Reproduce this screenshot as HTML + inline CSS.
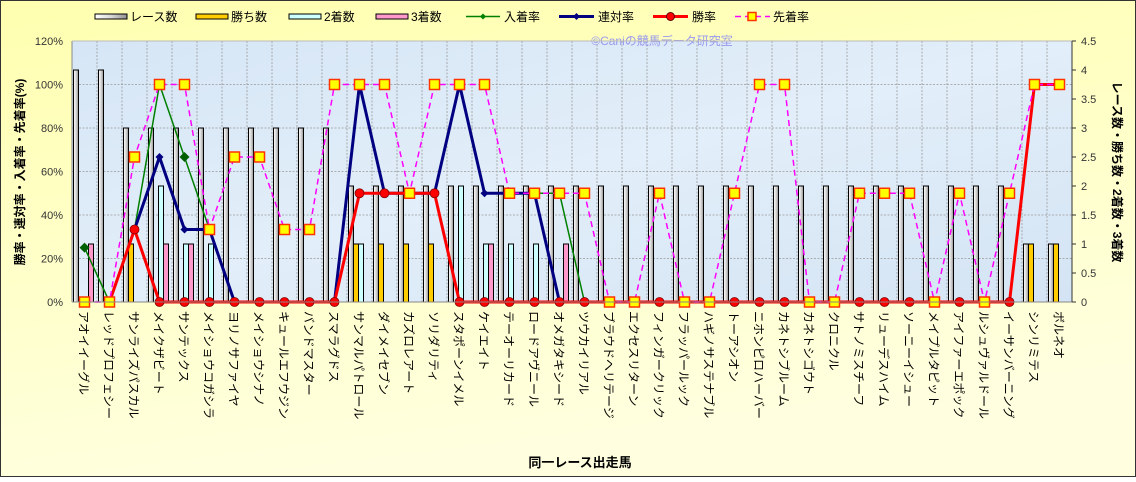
<!DOCTYPE html>
<html><head><meta charset="utf-8">
<style>
html,body{margin:0;padding:0;}
body{width:1136px;height:477px;overflow:hidden;font-family:"Liberation Sans","Noto Sans CJK JP",sans-serif;}
svg text{font-family:"Liberation Sans","Noto Sans CJK JP",sans-serif;}
</style></head>
<body>
<svg id="c" width="1136" height="477" xmlns="http://www.w3.org/2000/svg">
<defs>
<linearGradient id="bg" x1="0" y1="0" x2="0.3" y2="1">
<stop offset="0" stop-color="#FFFFB0"/><stop offset="1" stop-color="#FFFFE0"/></linearGradient>
<linearGradient id="pl" x1="0" y1="0" x2="1" y2="1">
<stop offset="0" stop-color="#D6E6F6"/><stop offset="0.5" stop-color="#E2EEF9"/><stop offset="1" stop-color="#D4E4F4"/></linearGradient>
<linearGradient id="rb" x1="0" y1="0" x2="1" y2="0">
<stop offset="0" stop-color="#FFFFFF"/><stop offset="0.5" stop-color="#D8D8D8"/><stop offset="1" stop-color="#909090"/></linearGradient>
</defs>
<rect x="0.5" y="0.5" width="1135" height="476" fill="url(#bg)" stroke="#333"/>
<rect x="72" y="41" width="1000" height="261" fill="url(#pl)"/>
<g id="g"></g>
</svg>
<script>
var g=document.getElementById('g'),h='';
var L=72,T=41,B=302,W=25;
function cx(i){return L+W*i+12.5;}
function yp(p){return B-p*261/120;}
function yc(v){return B-v*58;}
for(var k=1;k<6;k++){var y=yp(k*20);h+='<line x1="72" x2="1072" y1="'+y+'" y2="'+y+'" stroke="#999" stroke-dasharray="2,1.5" stroke-width="0.8"/>';}
for(var i=1;i<40;i++){var x=L+W*i;h+='<line x1="'+x+'" x2="'+x+'" y1="41" y2="302" stroke="#999" stroke-dasharray="2,1.5" stroke-width="0.8"/>';}
h+='<text x="662" y="45" font-size="12" fill="#9999EE" text-anchor="middle">©Caniの競馬データ研究室</text>';
var names=["アオイイーグル","レッドプロフェシー","サンライズパスカル","メイクザビート","サンテックス","メイショウコガシラ","ヨリノサファイヤ","メイショウシナノ","キュールエフウジン","バンドマスター","スマラグドス","サンマルパトロール","ダイメイセブン","カズロレアート","ソリダリティ","スタポーンイメル","ケイエイト","テーオーリカード","ロードアヴニール","オメガタキシード","ツウカイリアル","ブラウドヘリテージ","エクセスリターン","フィンガークリック","フラッパールック","ハギノサステナブル","トーアシオン","ニホンピロハーバー","カネトシブルーム","カネトシゴウト","クロニクル","サトノミスチーフ","リューデスハイム","ソーニーイシュー","メイプルタピット","アイファーエポック","ルシュヴァルドール","イーサンバーニング","シンリミテス","ボルネオ"];
var race=[4,4,3,3,3,3,3,3,3,3,3],win=[],sec=[],thr=[];
for(i=0;i<40;i++){if(race[i]===undefined)race[i]=2;win[i]=0;sec[i]=0;thr[i]=0;}
race[38]=1;race[39]=1;
[2,11,12,13,14,38,39].forEach(function(i){win[i]=1;});
sec[3]=2;sec[4]=1;sec[5]=1;sec[11]=1;sec[15]=2;sec[16]=1;sec[17]=1;sec[18]=1;
thr[0]=1;thr[3]=1;thr[4]=1;thr[16]=1;thr[19]=1;
var cols=[['url(#rb)',race],['#FFCC00',win],['#CCFFFF',sec],['#FF99CC',thr]];
for(i=0;i<40;i++){for(var s=0;s<4;s++){var v=cols[s][1][i];if(!v)continue;var x=L+W*i+1.5+5*s;h+='<rect x="'+x+'" y="'+yc(v)+'" width="5" height="'+(v*58)+'" fill="'+cols[s][0]+'" stroke="#000" stroke-width="1"/>';}}
var N=null,t=100/3,tt=200/3;
var green=[25,0,t,100,tt,t,0,0,0,0,0,100,50,50,50,100,50,50,50,50,0];
var blue=[N,N,t,tt,t,t,0,0,0,0,0,100,50,50,50,100,50,50,50,0];
var red=[N,0,t,0,0,0,0,0,0,0,0,50,50,50,50];
for(i=15;i<38;i++)red[i]=0;red[38]=100;red[39]=100;
var pink=[0,0,tt,100,100,t,tt,tt,t,t,100,100,100,50,100,100,100,50,50,50,50,0,0,50,0,0,50,100,100,0,0,50,50,50,0,50,0,50,100,100];
function line(a,col,w,dash){var d='';for(var i=0;i<a.length;i++){if(a[i]===N||a[i]===undefined)continue;d+=(d?'L':'M')+cx(i)+','+yp(a[i]).toFixed(1);}
return '<path d="'+d+'" fill="none" stroke="'+col+'" stroke-width="'+w+'"'+(dash?' stroke-dasharray="'+dash+'"':'')+' stroke-linejoin="round"/>';}
h+=line(green,'#008000',1.5);
[0,4].forEach(function(i){var x=cx(i),y=yp(green[i]);h+='<path d="M'+(x-5)+','+y+'L'+x+','+(y-5)+'L'+(x+5)+','+y+'L'+x+','+(y+5)+'Z" fill="#006000"/>';});
h+=line(blue,'#000080',3);
[3,4,16].forEach(function(i){var x=cx(i),y=yp(blue[i]);h+='<path d="M'+(x-4)+','+y+'L'+x+','+(y-4)+'L'+(x+4)+','+y+'L'+x+','+(y+4)+'Z" fill="#000080"/>';});
h+=line(red,'#FF0000',3);
for(i=0;i<40;i++){if(red[i]===N)continue;h+='<circle cx="'+cx(i)+'" cy="'+yp(red[i])+'" r="4.5" fill="#FF0000" stroke="#800000" stroke-width="0.8"/>';}
h+=line(pink,'#FF00FF',1.5,'6,4');
for(i=0;i<40;i++){var x=cx(i),y=yp(pink[i]);h+='<rect x="'+(x-5)+'" y="'+(y-5)+'" width="10" height="10" fill="#FFFF00" stroke="#FF3300" stroke-width="1.5"/>';}
h+='<line x1="72" x2="72" y1="41" y2="302" stroke="#888"/><line x1="72" x2="1072" y1="302" y2="302" stroke="#888"/><line x1="72" x2="1072" y1="41" y2="41" stroke="#bbb"/>';
h+='<line x1="1072" x2="1072" y1="41" y2="302" stroke="#333"/>';
for(k=0;k<=6;k++){h+='<text x="63" y="'+(yp(k*20)+4)+'" font-size="11" fill="#333" text-anchor="end">'+(k*20)+'%</text>';}
for(k=0;k<=9;k++){var y=yc(k*0.5);h+='<line x1="1072" x2="1076" y1="'+y+'" y2="'+y+'" stroke="#333"/><text x="1081" y="'+(y+4)+'" font-size="11" fill="#333">'+(k/2)+'</text>';}
for(i=0;i<40;i++){h+='<text transform="translate('+(cx(i)-5)+',311) rotate(90)" font-size="12" fill="#000">'+names[i]+'</text>';}
h+='<text transform="translate(24,172) rotate(-90)" font-size="12" font-weight="bold" text-anchor="middle" fill="#000">勝率・連対率・入着率・先着率(%)</text>';
h+='<text transform="translate(1113,172) rotate(90)" font-size="12" font-weight="bold" text-anchor="middle" fill="#000">レース数・勝ち数・2着数・3着数</text>';
h+='<text x="580" y="467" font-size="13" font-weight="bold" text-anchor="middle" fill="#000">同一レース出走馬</text>';
function lb(x,fill,txt){return '<rect x="'+x+'" y="14" width="32" height="5" fill="'+fill+'" stroke="#000"/><text x="'+(x+35)+'" y="21" font-size="12" fill="#000">'+txt+'</text>';}
h+=lb(95,'url(#rb)','レース数')+lb(196,'#FFCC00','勝ち数')+lb(289,'#CCFFFF','2着数')+lb(376,'#FF99CC','3着数');
h+='<line x1="466" x2="500" y1="16.5" y2="16.5" stroke="#008000" stroke-width="1.5"/><path d="M480,16.5L483,13.5L486,16.5L483,19.5Z" fill="#008000"/><text x="504" y="21" font-size="12">入着率</text>';
h+='<line x1="559" x2="594" y1="16.5" y2="16.5" stroke="#000080" stroke-width="3"/><path d="M573,16.5L576.5,13L580,16.5L576.5,20Z" fill="#000080"/><text x="598" y="21" font-size="12">連対率</text>';
h+='<line x1="653" x2="688" y1="16.5" y2="16.5" stroke="#FF0000" stroke-width="3"/><circle cx="670.5" cy="16.5" r="4" fill="#FF0000" stroke="#600"/><text x="692" y="21" font-size="12">勝率</text>';
h+='<line x1="735" x2="770" y1="16.5" y2="16.5" stroke="#FF00FF" stroke-width="1.5" stroke-dasharray="6,4"/><rect x="748" y="12.5" width="8" height="8" fill="#FFFF00" stroke="#FF3300" stroke-width="1.5"/><text x="773" y="21" font-size="12">先着率</text>';
g.innerHTML=h;
</script>
</body></html>
